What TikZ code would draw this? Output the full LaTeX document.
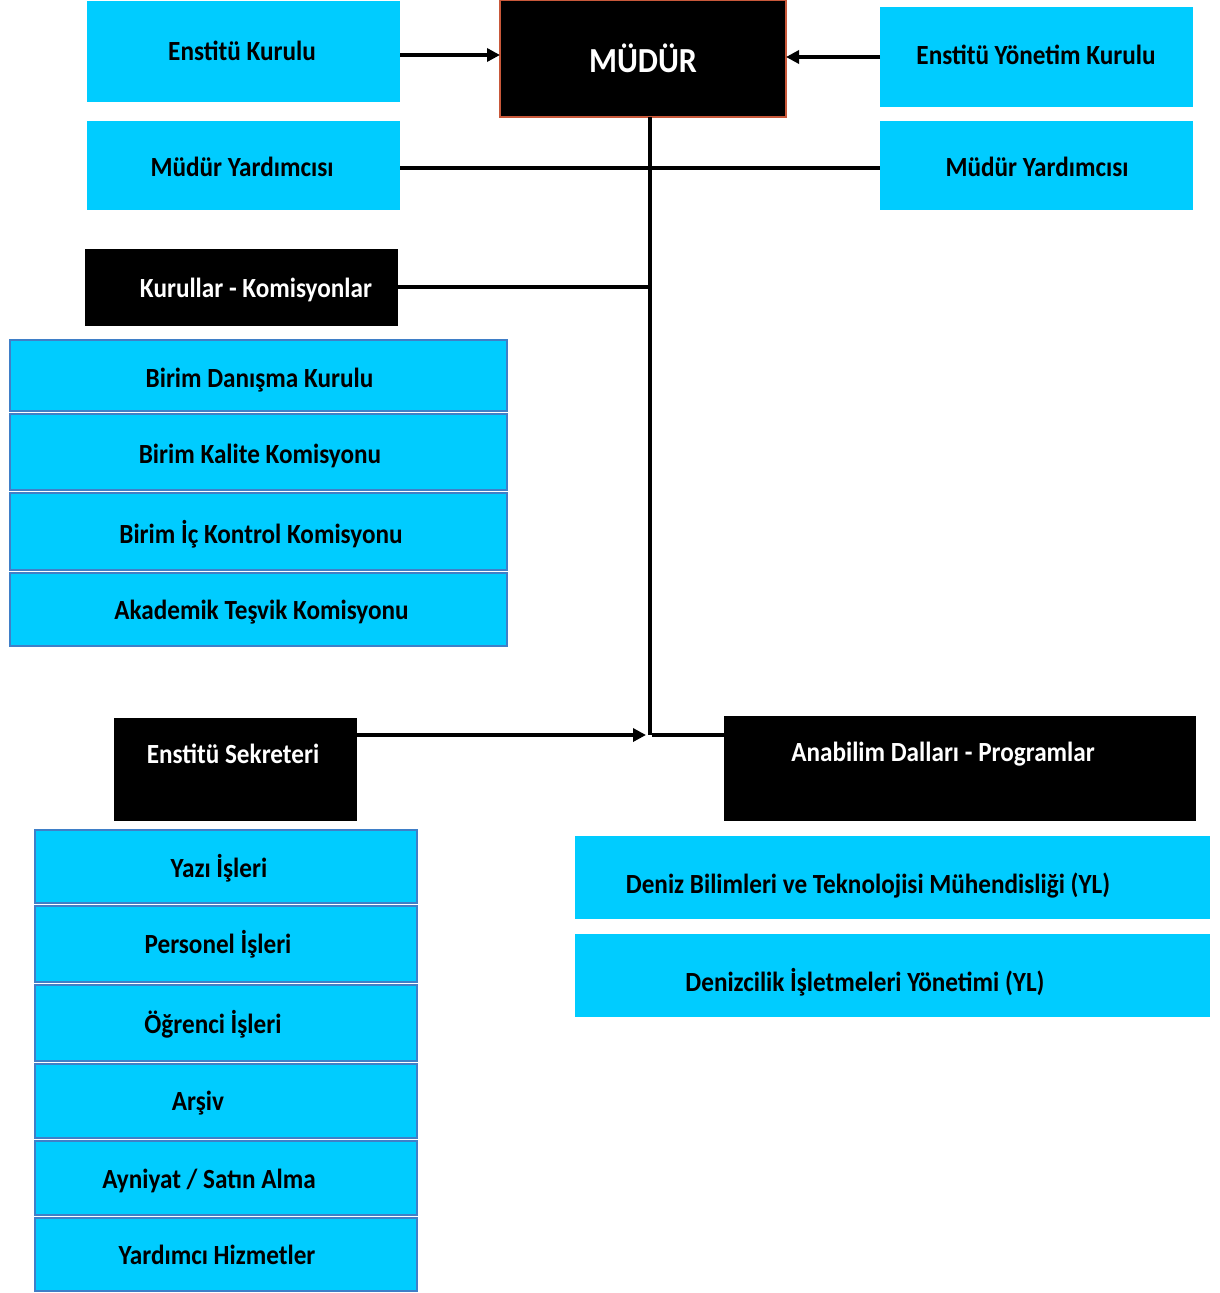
\documentclass[tikz,border=0pt]{standalone}
\usepackage{fontspec}
\setmainfont{Carlito}
\usetikzlibrary{arrows.meta}
\definecolor{cy}{HTML}{00CCFF}
\definecolor{bl}{HTML}{3F7FC8}
\definecolor{rb}{HTML}{C8583A}
\newcommand\vtx[1]{\scalebox{1}[1.1]{#1}}
\newcommand\bx[6]{\node[#6, minimum width={(#4-#2)*1pt}, minimum height={(#5-#3)*1pt}] (#1) at ({(#2+#4)/2},{(#3+#5)/2}) {};}
\begin{document}
\begin{tikzpicture}[x=1pt,y=-1pt,
  cbox/.style={fill=cy, draw=none, inner sep=0, outer sep=0},
  lbox/.style={fill=cy, draw=bl, line width=1.4pt, inner sep=0, outer sep=0},
  kbox/.style={fill=black, draw=none, inner sep=0, outer sep=0},
  mbox/.style={fill=black, draw=rb, line width=1.4pt, inner sep=0, outer sep=0},
  lbl/.style={font=\fontsize{25.2}{29}\selectfont\bfseries, inner sep=0, anchor=base},
  wlbl/.style={lbl, text=white},
  conn/.style={line width=3.5pt, black},
  arr/.style={line width=4.5pt, black, -{Triangle[length=13pt,width=13pt]}}
]
\useasboundingbox[fill=white] (0,0) rectangle (1220,1293);

% top row
\bx{ek}{87}{1}{400}{102}{cbox}
\bx{mud}{500}{0}{786}{117}{mbox}
\bx{eyk}{880}{7}{1193}{107}{cbox}
\bx{myl}{87}{121}{400}{210}{cbox}
\bx{myr}{880}{121}{1193}{210}{cbox}
\bx{kk}{85}{249}{398}{326}{kbox}

% Birim list
\bx{b1}{10}{340}{507}{411}{lbox}
\bx{b2}{10}{414}{507}{490}{lbox}
\bx{b3}{10}{493}{507}{570}{lbox}
\bx{b4}{10}{573}{507}{646}{lbox}

% Sekreter / Anabilim
\bx{es}{114}{718}{357}{821}{kbox}
\bx{ad}{724}{716}{1196}{821}{kbox}
\bx{p1}{575}{836}{1210}{919}{cbox}
\bx{p2}{575}{934}{1210}{1017}{cbox}

\bx{s1}{35}{830}{417}{903}{lbox}
\bx{s2}{35}{906}{417}{982}{lbox}
\bx{s3}{35}{985}{417}{1061}{lbox}
\bx{s4}{35}{1064}{417}{1138}{lbox}
\bx{s5}{35}{1141}{417}{1215}{lbox}
\bx{s6}{35}{1218}{417}{1291}{lbox}

% texts
\node[lbl] (tek) at (242,60) {\vtx{Enstitü Kurulu}};
\node[wlbl, font=\fontsize{32}{36}\selectfont\bfseries] (tmud) at (643,72) {\vtx{MÜDÜR}};
\node[lbl] (teyk) at (1036,64) {\vtx{Enstitü Yönetim Kurulu}};
\node[lbl] (tmyl) at (242,176) {\vtx{Müdür Yardımcısı}};
\node[lbl] (tmyr) at (1037,176) {\vtx{Müdür Yardımcısı}};
\node[wlbl] (tkk) at (256,297) {\vtx{Kurullar - Komisyonlar}};
\node[lbl] (tb1) at (259.5,387) {\vtx{Birim Danışma Kurulu}};
\node[lbl] (tb2) at (260,463) {\vtx{Birim Kalite Komisyonu}};
\node[lbl] (tb3) at (261,543) {\vtx{Birim İç Kontrol Komisyonu}};
\node[lbl] (tb4) at (261.5,619) {\vtx{Akademik Teşvik Komisyonu}};
\node[wlbl] (tes) at (233,763) {\vtx{Enstitü Sekreteri}};
\node[wlbl] (tad) at (943,761) {\vtx{Anabilim Dalları - Programlar}};
\node[lbl] (tp1) at (868,893) {\vtx{Deniz Bilimleri ve Teknolojisi Mühendisliği (YL)}};
\node[lbl] (tp2) at (865,991) {\vtx{Denizcilik İşletmeleri Yönetimi (YL)}};
\node[lbl] (ts1) at (219,877) {\vtx{Yazı İşleri}};
\node[lbl] (ts2) at (218,953) {\vtx{Personel İşleri}};
\node[lbl] (ts3) at (213,1033) {\vtx{Öğrenci İşleri}};
\node[lbl] (ts4) at (198,1110) {\vtx{Arşiv}};
\node[lbl] (ts5) at (209,1188) {\vtx{Ayniyat / Satın Alma}};
\node[lbl] (ts6) at (217,1264) {\vtx{Yardımcı Hizmetler}};

% connectors
\coordinate (J) at (650,735);
\draw[arr] (ek.east |- 0,55) -- (mud.west |- 0,55);
\draw[arr] (eyk.west |- 0,57) -- (mud.east |- 0,57);
\draw[conn] (mud.south -| J) -- (J);
\draw[line width=4.5pt] (myl.east |- 0,168) -- (myr.west |- 0,168);
\draw[conn] (kk.east |- 0,287) -- (J |- 0,287);
\draw[arr, shorten >=4pt] (es.east |- J) -- (J);
\draw[conn] ([xshift=2pt]J) -- (ad.west |- J);
\end{tikzpicture}
\end{document}
